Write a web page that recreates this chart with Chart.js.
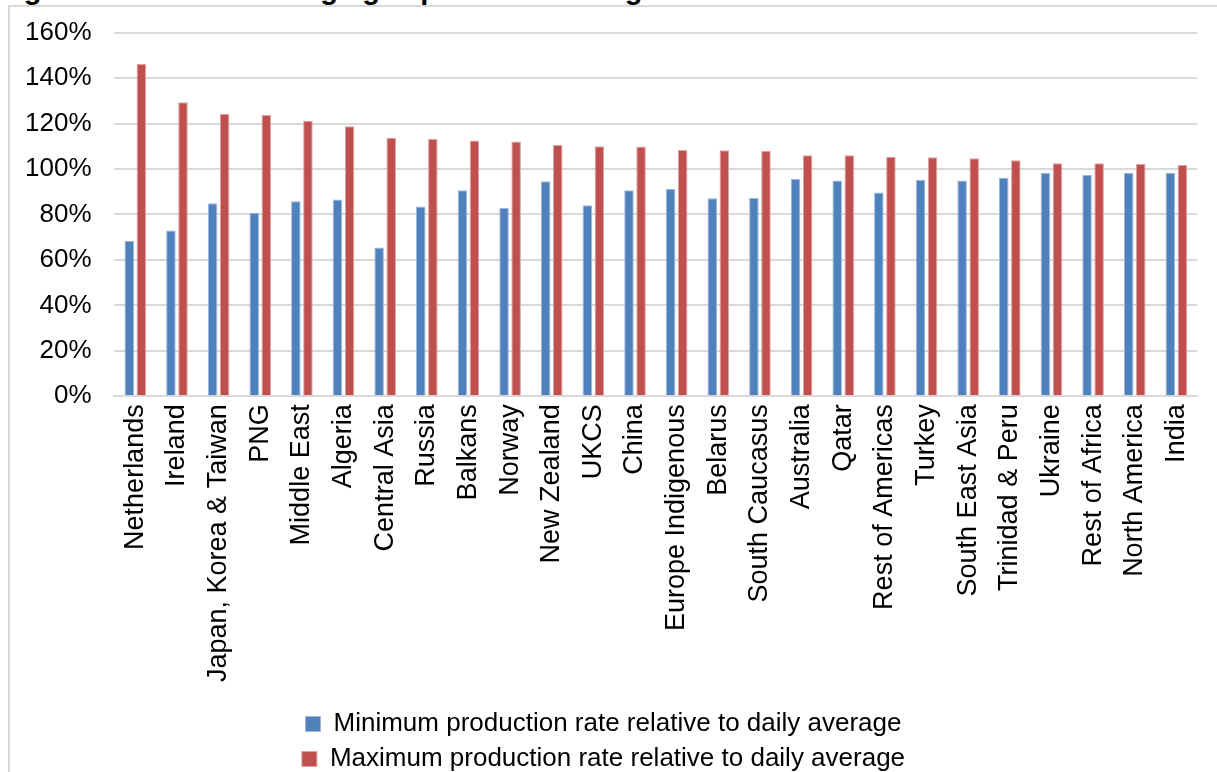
<!DOCTYPE html>
<html>
<head>
<meta charset="utf-8">
<script src="https://cdn.jsdelivr.net/npm/chart.js@4"></script>
<style>
  html, body { margin: 0; padding: 0; background: #fff; overflow: hidden; }
  body { width: 1217px; height: 772px; position: relative; font-family: "Liberation Sans", Arial, sans-serif; }
  .titulo { position: absolute; left: -2px; top: -27px; font-weight: bold; font-size: 29px; white-space: nowrap; color: #000; }
  .marco { position: absolute; left: 8px; top: 5px; width: 1220px; height: 780px; border-left: 2px solid #d9d9d9; border-top: 2px solid #d9d9d9; background: #fff; }
  .lienzo { position: absolute; left: -10px; top: -6px; width: 1227px; height: 788px; }
</style>
</head>
<body>
<div class="titulo">Figure 4: Historic average gas production ranges</div>
<div class="marco"></div>
<div class="lienzo"><canvas id="graficoGas"></canvas></div>
<script>
const regiones = ['Netherlands', 'Ireland', 'Japan, Korea & Taiwan', 'PNG', 'Middle East', 'Algeria',
  'Central Asia', 'Russia', 'Balkans', 'Norway', 'New Zealand', 'UKCS', 'China', 'Europe Indigenous',
  'Belarus', 'South Caucasus', 'Australia', 'Qatar', 'Rest of Americas', 'Turkey', 'South East Asia',
  'Trinidad & Peru', 'Ukraine', 'Rest of Africa', 'North America', 'India']
const minimos = [68.3, 73.0, 84.9, 80.7, 85.8, 86.6, 65.5, 83.5, 90.6, 82.8, 94.6, 84.1, 90.7, 91.2,
  87.1, 87.2, 95.6, 94.9, 89.7, 95.3, 94.9, 96.2, 98.2, 97.4, 98.2, 98.2]
const maximos = [146.2, 129.4, 124.3, 123.8, 121.2, 118.8, 113.7, 113.2, 112.5, 112.1, 110.6, 110.0, 109.9, 108.4,
  108.2, 108.0, 106.0, 106.0, 105.4, 105.2, 104.7, 103.8, 102.5, 102.5, 102.2, 101.8]
const marcasY = [0, 20, 40, 60, 80, 100, 120, 140, 160]

const fuente = '"Liberation Sans", Arial, sans-serif'

const ctx = document.getElementById('graficoGas').getContext('2d')
new Chart(ctx, {
  type: 'bar',
  data: {
    labels: regiones,
    datasets: [{
      label: 'Minimum production rate relative to daily average',
      data: minimos,
      backgroundColor: '#4F81BD',
      borderColor: '#9db7da',
      borderWidth: 1
    }, {
      label: 'Maximum production rate relative to daily average',
      data: maximos,
      backgroundColor: '#C0504D',
      borderColor: '#dca3a2',
      borderWidth: 1
    }]
  },
  options: {
    responsive: true,
    maintainAspectRatio: false,
    animation: false,
    categoryPercentage: 0.58,
    barPercentage: 0.79,
    layout: { padding: { left: 12, right: 12, top: 12, bottom: 0 } },
    plugins: {
      tooltip: { enabled: false },
      legend: {
        position: 'bottom',
        labels: {
          color: '#000',
          boxWidth: 15,
          boxHeight: 15,
          padding: 9,
          font: { family: fuente, size: 26 }
        }
      }
    },
    scales: {
      x: {
        grid: { display: false, drawTicks: false },
        border: { color: '#d9d9d9', width: 2 },
        afterFit: eje => { eje.height += 12 },
        ticks: {
          color: '#000',
          minRotation: 90,
          maxRotation: 90,
          autoSkip: false,
          padding: 8,
          font: { family: fuente, size: 27 }
        }
      },
      y: {
        min: 0,
        max: 160,
        afterBuildTicks: eje => { eje.ticks = marcasY.map(v => ({ value: v })) },
        grid: { color: '#d9d9d9', lineWidth: 2, drawTicks: false },
        border: { display: false },
        ticks: {
          color: '#000',
          padding: 23,
          font: { family: fuente, size: 26 },
          callback: v => v + '%'
        }
      }
    }
  }
})
</script>
</body>
</html>
